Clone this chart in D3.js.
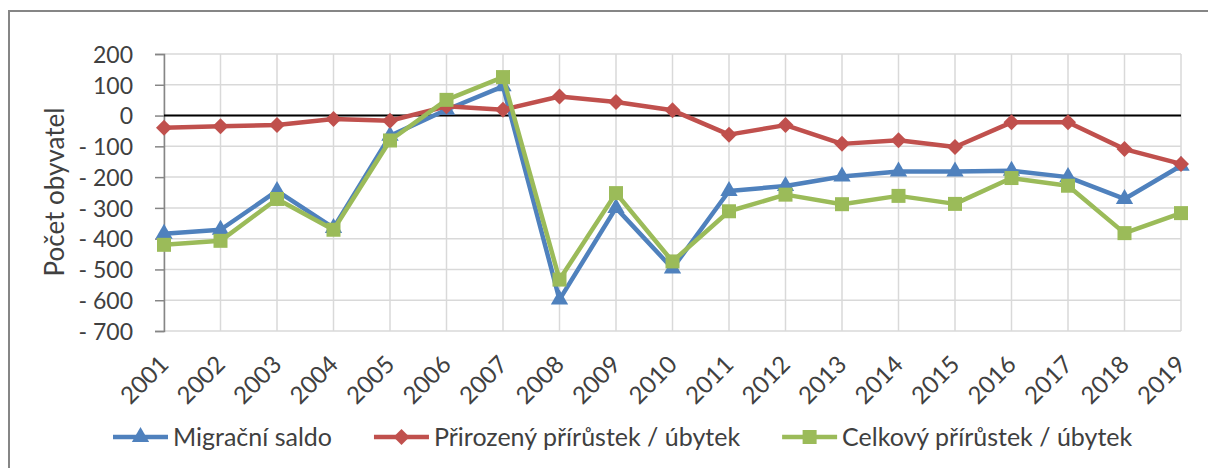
<!DOCTYPE html>
<html>
<head>
<meta charset="utf-8">
<script src="https://cdn.jsdelivr.net/npm/d3@7"></script>
<style>
body { margin: 0; background: #fff; }
text { font-family: Lato, "Open Sans", sans-serif; fill: #404040; }
</style>
</head>
<body>
<svg class="graph1"></svg>
<script>
// roky na ose x
var years = ["2001","2002","2003","2004","2005","2006","2007","2008","2009","2010",
             "2011","2012","2013","2014","2015","2016","2017","2018","2019"];

var migracni = [-384,-371,-245,-365,-66,19,95,-598,-300,-497,-245,-229,-198,-182,-182,-179,-200,-271,-163];
var prirozeny = [-40,-35,-31,-11,-17,30,19,62,44,17,-62,-31,-92,-80,-102,-22,-22,-109,-157];
var celkovy = [-420,-407,-271,-371,-81,51,125,-533,-252,-474,-311,-257,-288,-261,-287,-203,-228,-382,-317];

var seriesNames = ["Migrační saldo", "Přirozený přírůstek / úbytek", "Celkový přírůstek / úbytek"];
var seriesColors = ["#4F81BD", "#C0504D", "#9BBB59"];
var seriesMarkers = ["triangle", "diamond", "square"];

var yTicks = [200,100,0,-100,-200,-300,-400,-500,-600,-700];

var makeTranslateString = function(x,y)
{
    return "translate("+x+","+y+")";
}

var formatTick = function(v)
{
    return v < 0 ? "- " + (-v) : "" + v;
}

var markerPath = function(type)
{
    if (type == "triangle") return d3.symbol(d3.symbolTriangle, 130)();
    if (type == "diamond") return "M0,-8L8,0L0,8L-8,0Z";
    return "M-7,-7H7V7H-7Z";
}

var initGraph = function()
{
    var screen = {width:1208,height:468}
    var margins = {left:164,right:27,top:54,bottom:137}

    var graph =
        {
            width:screen.width-margins.left-margins.right,
            height:screen.height-margins.top-margins.bottom
        }

    var svg = d3.select(".graph1")
    .attr("width",screen.width)
    .attr("height",screen.height)

    // ramecek grafu
    svg.append("rect")
    .attr("x",9).attr("y",11)
    .attr("width",1220).attr("height",480)
    .attr("fill","none")
    .attr("stroke","#868686")
    .attr("stroke-width",2)

    var target = svg.append("g")
    .attr("transform",makeTranslateString(margins.left,margins.top))

    var xScale = d3.scalePoint()
        .domain(years)
        .range([0,graph.width])

    var yScale = d3.scaleLinear()
        .domain([-700,200])
        .range([graph.height,0])

    // mrizka
    target.append("g")
    .selectAll("line.h")
    .data(yTicks)
    .enter()
    .append("line")
    .attr("x1",0).attr("x2",graph.width)
    .attr("y1",function(d){return yScale(d);})
    .attr("y2",function(d){return yScale(d);})
    .attr("stroke","#d9d9d9")
    .attr("stroke-width",1.5)

    target.append("g")
    .selectAll("line.v")
    .data(years)
    .enter()
    .append("line")
    .attr("x1",function(d){return xScale(d);})
    .attr("x2",function(d){return xScale(d);})
    .attr("y1",0).attr("y2",graph.height)
    .attr("stroke","#d9d9d9")
    .attr("stroke-width",1.5)

    // osa y
    var yAxis = d3.axisLeft(yScale)
        .tickValues(yTicks)
        .tickFormat(formatTick)
        .tickSize(9)
        .tickPadding(22)

    var ya = target.append("g").call(yAxis)
    ya.select(".domain").attr("stroke","#868686").attr("stroke-width",1.5)
    ya.selectAll(".tick line").attr("stroke","#868686").attr("stroke-width",1.5)
    ya.selectAll(".tick text")
    .style("font-size","23px")
    .attr("fill","#404040")
    .attr("dy","0.36em")

    // nulova osa
    target.append("line")
    .attr("x1",0).attr("x2",graph.width)
    .attr("y1",yScale(0)).attr("y2",yScale(0))
    .attr("stroke","#000")
    .attr("stroke-width",2)

    // popisky roku
    target.append("g")
    .selectAll("text")
    .data(years)
    .enter()
    .append("text")
    .text(function(d){return d;})
    .attr("text-anchor","end")
    .style("font-size","24px")
    .attr("transform",function(d){
        return makeTranslateString(xScale(d)+6, graph.height+35)+" rotate(-45)";
    })

    // nazev osy y
    svg.append("g")
    .attr("transform",makeTranslateString(64,192))
    .append("text")
    .text("Počet obyvatel")
    .attr("text-anchor","middle")
    .attr("transform","rotate(-90)")
    .style("font-size","26px")
    .attr("fill","#000")

    // rady
    var allSeries = [migracni, prirozeny, celkovy];
    var line = d3.line()
        .x(function(d,i){return xScale(years[i]);})
        .y(function(d){return yScale(d);})

    allSeries.forEach(function(values,k)
    {
        var g = target.append("g")
        g.append("path")
        .datum(values)
        .attr("d",line)
        .attr("fill","none")
        .attr("stroke",seriesColors[k])
        .attr("stroke-width",4.5)
        .attr("stroke-linejoin","round")

        g.selectAll("path.m")
        .data(values)
        .enter()
        .append("path")
        .attr("d",markerPath(seriesMarkers[k]))
        .attr("transform",function(d,i){
            return makeTranslateString(xScale(years[i]),yScale(d));
        })
        .attr("fill",seriesColors[k])
    })

    // legenda
    var legend = svg.append("g")
    .attr("transform",makeTranslateString(113,437))
    var x = 0
    seriesNames.forEach(function(name,k)
    {
        var item = legend.append("g").attr("transform",makeTranslateString(x,0))
        item.append("line")
        .attr("x1",0).attr("x2",55)
        .attr("y1",0).attr("y2",0)
        .attr("stroke",seriesColors[k])
        .attr("stroke-width",4.5)
        item.append("path")
        .attr("d",markerPath(seriesMarkers[k]))
        .attr("transform",makeTranslateString(27.5,0))
        .attr("fill",seriesColors[k])
        var t = item.append("text")
        .text(name)
        .attr("x",60)
        .attr("y",9)
        .style("font-size","25px")
        .attr("fill","#000")
        x += 60 + t.node().getComputedTextLength() + 42
    })
}

initGraph();
</script>
</body>
</html>
